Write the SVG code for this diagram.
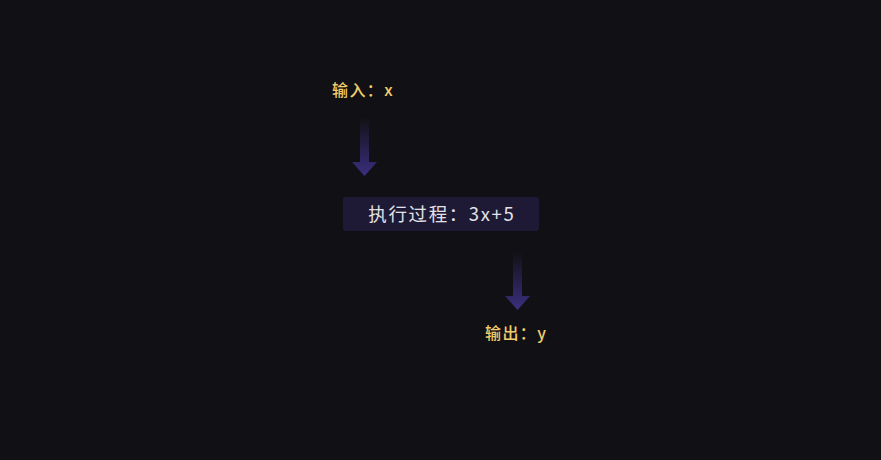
<svg xmlns="http://www.w3.org/2000/svg" width="881" height="460" viewBox="0 0 881 460">
<defs>
<linearGradient id="ag" x1="0" y1="0" x2="0" y2="1">
<stop offset="0" stop-color="#3b2f80" stop-opacity="0"/>
<stop offset="1" stop-color="#3b2f80" stop-opacity="1"/>
</linearGradient>
<style>
.lbl{font-family:"Noto Sans CJK SC","Noto Sans",sans-serif;font-size:16px;font-weight:500;fill:#f3cd6b;letter-spacing:1.4px}
.main{font-family:"Noto Sans CJK SC","Noto Sans",sans-serif;font-size:18.5px;fill:#e2e2e8;letter-spacing:1.6px}
.arrow{fill:url(#ag)}
</style>
</defs>
<rect width="881" height="460" fill="#111115"/>
<g id="input"><text class="lbl" x="332" y="96">输入：x</text></g>
<g id="process">
<rect x="343" y="197" width="196" height="34" rx="3" fill="#1e1a35"/>
<text class="main" x="441.8" y="220.5" text-anchor="middle">执行过程：3x+5</text>
</g>
<g id="output"><text class="lbl" x="485" y="339">输出：y</text></g>
<g id="connectors">
<path class="arrow" d="M360,118 L369,118 L369,162 L377,162 L364.5,176 L352,162 L360,162 Z"/>
<path class="arrow" d="M513,252 L522,252 L522,296 L530,296 L517.5,310 L505,296 L513,296 Z"/>
</g>
</svg>
